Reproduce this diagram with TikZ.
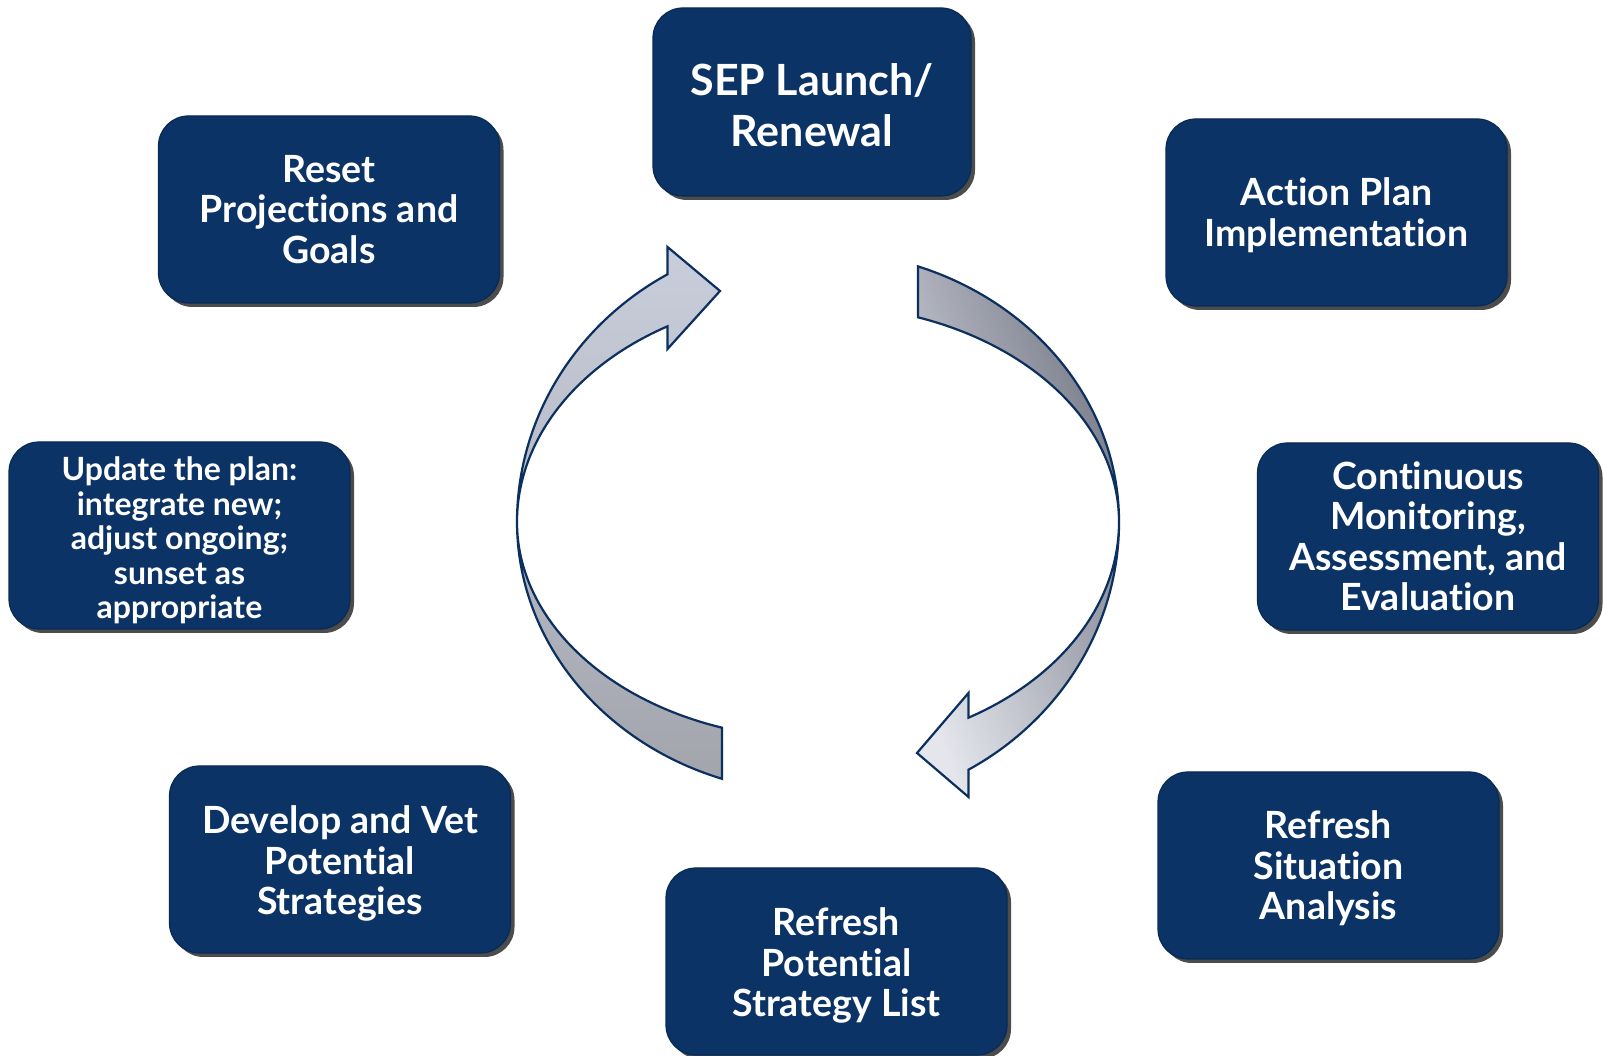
\documentclass[tikz,border=0pt]{standalone}
\usepackage{fontspec}
\newfontfamily\lato{Lato}[Ligatures={NoCommon}]
\usetikzlibrary{shadows}
\definecolor{navy}{HTML}{0B3366}
\definecolor{navyedge}{HTML}{082a55}
\definecolor{arrowline}{HTML}{0B2F5E}
\definecolor{laTop}{HTML}{C9CEDC}
\definecolor{laBot}{HTML}{A3A5AD}
\definecolor{raLight}{HTML}{E4E6EC}
\definecolor{raDark}{HTML}{747886}
\tikzset{
  box/.style={draw=navyedge, line width=1.2pt, fill=navy, rounded corners=30pt,
    minimum width=341pt, minimum height=187pt, inner sep=0pt,
    drop shadow={shadow xshift=4pt, shadow yshift=-4pt, fill=black, opacity=0.7}},
  boxtext/.style={inner sep=0pt, align=center, text=white,
    font=\lato\bfseries\fontsize{37.5}{40.5}\selectfont},
  cyclearrow/.style={draw=arrowline, line width=2.2pt, line join=miter}
}
\begin{document}
\begin{tikzpicture}[x=1pt,y=1pt]
\useasboundingbox (0,0) rectangle (1603,1056);
\fill[white] (0,0) rectangle (1603,1056);

% left arrow (from bottom up to the top)
\shade[cyclearrow, top color=laTop, bottom color=laBot]
  (667.5,781.7) arc[start angle=120, end angle=180, x radius=301pt, y radius=286pt]
  arc[start angle=180, end angle=251.4, x radius=301pt, y radius=271pt]
  -- (722,328.3)
  arc[start angle=251.4, end angle=180, x radius=301pt, y radius=217pt]
  arc[start angle=180, end angle=120, x radius=301pt, y radius=226pt]
  -- (667.5,707) -- (720,765) -- (667.5,809) -- cycle;

% right arrow (from the top down to the bottom)
\shade[cyclearrow, top color=raDark, bottom color=raLight, shading angle=-70]
  (918,789.6) arc[start angle=70.6, end angle=0, x radius=301pt, y radius=271pt]
  arc[start angle=0, end angle=-60, x radius=301pt, y radius=286pt]
  -- (968.5,259) -- (917,303) -- (968.5,363) -- (968.5,338.3)
  arc[start angle=-60, end angle=0, x radius=301pt, y radius=226pt]
  arc[start angle=0, end angle=70.6, x radius=301pt, y radius=217pt]
  -- cycle;

% boxes
\node[box, minimum width=318pt, minimum height=188pt] (sep) at (812,954) {};
\node[box] (reset)   at (329,846.5)  {};
\node[box] (action)  at (1336.5,843.5) {};
\node[box] (update)  at (179.5,520.5) {};
\node[box] (cont)    at (1428,519.5) {};
\node[box] (develop) at (340,196.5) {};
\node[box] (rpot)    at (836.5,94.5) {};
\node[box] (rsit)    at (1328.5,190.5) {};

% texts
\node[boxtext, font=\lato\bfseries\fontsize{43}{51}\selectfont] (sept)
  at ([yshift=-3pt]sep.center) {SEP Launch/\\Renewal};
\node[boxtext] (resett) at (reset.center) {Reset\\Projections and\\Goals};
\node[boxtext] (actiont) at ([yshift=-2.5pt]action.center) {Action Plan\\Implementation};
\node[boxtext, font=\lato\bfseries\fontsize{32}{34.5}\selectfont] (updatet)
  at ([yshift=-5pt]update.center)
  {Update the plan:\\integrate new;\\adjust ongoing;\\sunset as\\appropriate};
\node[boxtext] (contt) at (cont.center) {Continuous\\Monitoring,\\Assessment, and\\Evaluation};
\node[boxtext] (developt) at ([yshift=-4pt]develop.center) {Develop and Vet\\Potential\\Strategies};
\node[boxtext] (rpott) at ([yshift=-4pt]rpot.center) {Refresh\\Potential\\Strategy List};
\node[boxtext] (rsitt) at ([yshift=-3pt]rsit.center) {Refresh\\Situation\\Analysis};
\end{tikzpicture}
\end{document}
